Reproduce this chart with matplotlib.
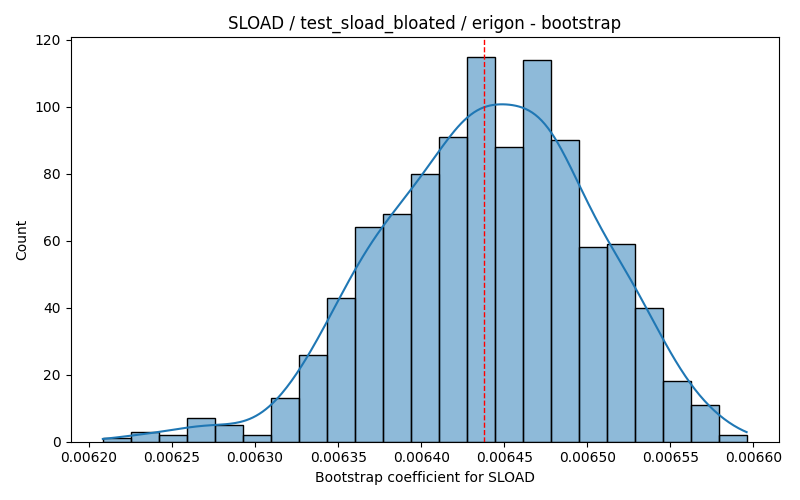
import numpy as np
import matplotlib
matplotlib.use("Agg")
import matplotlib.pyplot as plt

# Histogram data
bin_start = 0.0062083
bin_end = 0.0065960
counts = [1, 3, 2, 7, 5, 2, 13, 26, 43, 64, 68, 80, 91, 115, 88, 114, 90, 58, 59, 40, 18, 11, 2]
mean_line = 0.0064380

title = "SLOAD / test_sload_bloated / erigon - bootstrap"
xlabel = "Bootstrap coefficient for SLOAD"
ylabel = "Count"

counts = np.array(counts, dtype=float)
edges = np.linspace(bin_start, bin_end, len(counts) + 1)
width = edges[1] - edges[0]
centers = (edges[:-1] + edges[1:]) / 2

fig, ax = plt.subplots(figsize=(8, 5), dpi=100)
ax.bar(edges[:-1], counts, width=width, align="edge",
       facecolor=(0.1216, 0.4667, 0.7059, 0.5), edgecolor="black", linewidth=1)

# Gaussian KDE (Scott's rule) from the binned counts
n = counts.sum()
mu = np.sum(centers * counts) / n
sd = np.sqrt(np.sum(counts * (centers - mu) ** 2) / (n - 1))
bw = 1.2 * sd * n ** (-1 / 5)
xs = np.linspace(bin_start, bin_end, 400)
dens = np.sum(counts[None, :] * np.exp(-0.5 * ((xs[:, None] - centers[None, :]) / bw) ** 2), axis=1)
dens /= (n * bw * np.sqrt(2 * np.pi))
ax.plot(xs, dens * n * width, color="#1f77b4", linewidth=1.5)

ax.axvline(mean_line, color="red", linestyle="--", linewidth=1)

ax.set_title(title)
ax.set_xlabel(xlabel)
ax.set_ylabel(ylabel)
fig.tight_layout()
fig.savefig("out.png")
